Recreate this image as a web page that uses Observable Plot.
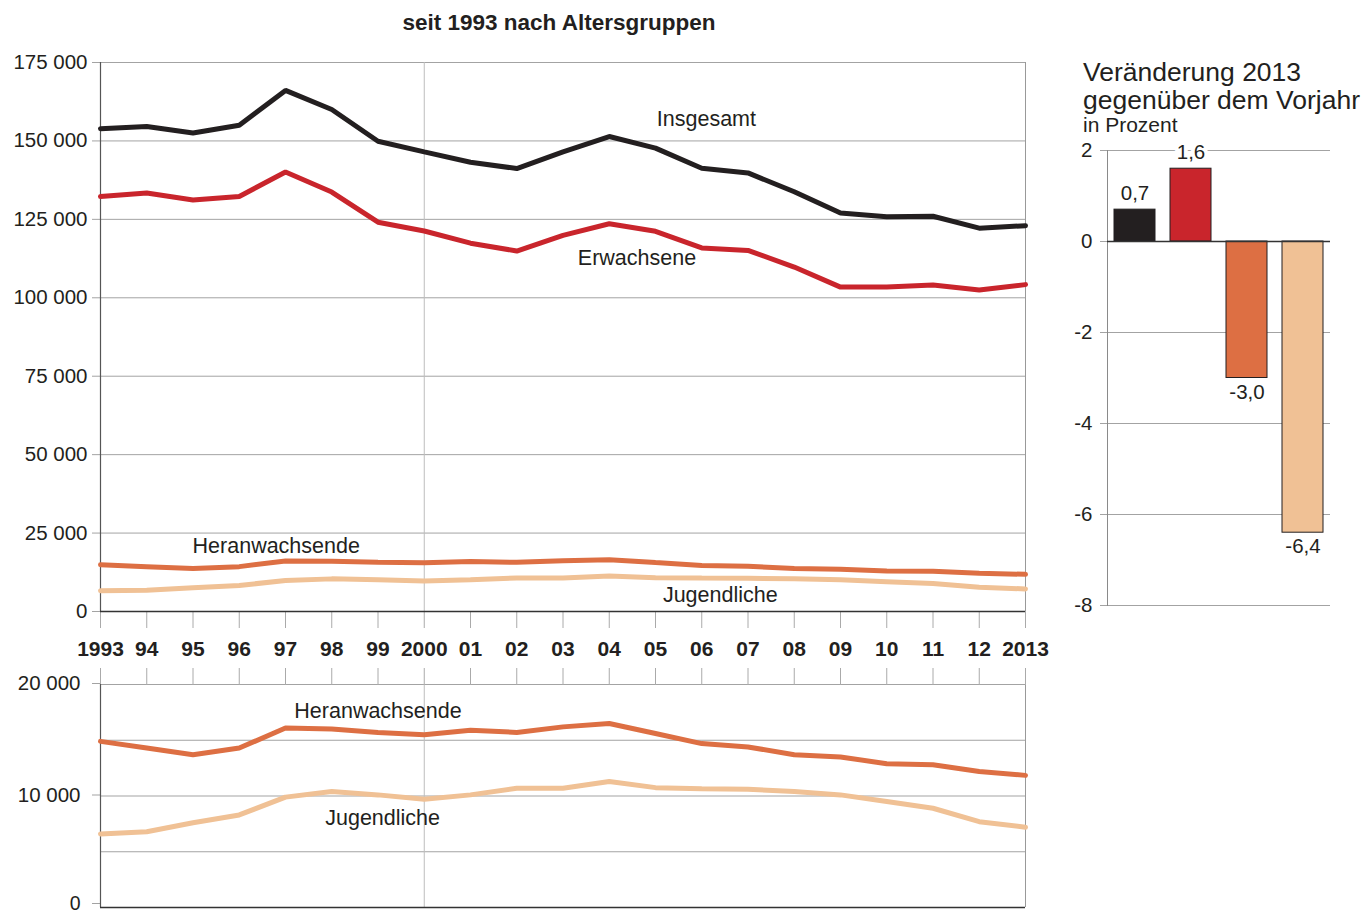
<!DOCTYPE html>
<html><head><meta charset="utf-8">
<script src="https://cdn.jsdelivr.net/npm/d3@7"></script>
<script src="https://cdn.jsdelivr.net/npm/@observablehq/plot@0.6"></script>
<style>
body{margin:0;background:#fff;font-family:"Liberation Sans",Arial,sans-serif;color:#231f20;}
#wrap{position:relative;width:1370px;height:915px;overflow:hidden;background:#fff}
.abs{position:absolute}
svg{overflow:visible}
</style></head><body>
<div id="wrap">
<div id="main" class="abs" style="left:0;top:0"></div>
<div id="sub" class="abs" style="left:0;top:660px"></div>
<div id="bars" class="abs" style="left:1060px;top:140px"></div>
<div class="abs" style="left:0;width:1118px;top:10px;text-align:center;font-weight:bold;font-size:22.5px">seit 1993 nach Altersgruppen</div>
<div class="abs" style="left:1083px;top:58px;font-size:26.5px;line-height:28px;white-space:nowrap">Veränderung 2013<br>gegenüber dem Vorjahr</div>
<div class="abs" style="left:1083px;top:113px;font-size:21px;white-space:nowrap">in Prozent</div>
</div>
<script>
// ---- data ----
const years = [1993,1994,1995,1996,1997,1998,1999,2000,2001,2002,2003,2004,2005,2006,2007,2008,2009,2010,2011,2012,2013];
const yearLabels = ["1993","94","95","96","97","98","99","2000","01","02","03","04","05","06","07","08","09","10","11","12","2013"];
const insgesamt = [153900,154600,152500,155000,166100,160000,149900,146500,143200,141200,146500,151400,147700,141300,139800,133800,127000,125800,126000,122200,123000];
const erwachsene = [132300,133400,131200,132300,140100,133700,124100,121300,117400,114900,119900,123600,121200,115900,115100,109800,103400,103400,104100,102500,104200];
const heranwachsende = [14900,14300,13700,14300,16100,16000,15700,15500,15900,15700,16200,16500,15600,14700,14400,13700,13500,12900,12800,12200,11850];
const jugendliche = [6600,6800,7600,8300,9900,10400,10100,9700,10100,10700,10700,11300,10750,10650,10600,10400,10100,9500,8900,7700,7200];

const groups = ["Insgesamt","Erwachsene","Heranwachsende","Jugendliche"];
const groupColors = ["#231f20","#c9252c","#dd6f43","#f0c195"];
const change2013 = [0.7, 1.6, -3.0, -6.4];

const mainTicks = [0,25000,50000,75000,100000,125000,150000,175000];
const subGrid = [0,5000,10000,15000,20000];
const subTicksUpper = [10000,20000];
const subTickZero = [0];
const barTicks = [-8,-6,-4,-2,0,2];

// line labels (annotation anchors in data units)
const mainLabelText = ["Insgesamt","Erwachsene","Heranwachsende","Jugendliche"];
const mainLabelYear = [2006.1, 2004.6, 1996.8, 2006.4];
const mainLabelValue = [157000, 112700, 20700, 5100];
const subLabelText = ["Heranwachsende","Jugendliche"];
const subLabelYear = [1999.0, 1999.1];
const subLabelValue = [17600, 8000];

// ---- build tables ----
const seriesValues = [insgesamt, erwachsene, heranwachsende, jugendliche];
const rows = groups.flatMap((g, i) => years.map((y, j) => ({group: g, year: y, value: seriesValues[i][j]})));
const subRows = rows.filter(d => d.group === "Heranwachsende" || d.group === "Jugendliche");
const mainLabels = mainLabelText.map((t, i) => ({text: t, year: mainLabelYear[i], value: mainLabelValue[i]}));
const subLabels = subLabelText.map((t, i) => ({text: t, year: subLabelYear[i], value: subLabelValue[i]}));
const bars = groups.map((g, i) => ({group: g, value: change2013[i]}));

const thousands = d => d === 0 ? "0" : d3.format(",")(d).replace(/,/g, " ");
const yearFmt = d => yearLabels[years.indexOf(d)] ?? "";
const deNum = d => d.toFixed(1).replace(".", ",");
const FONT = "'Liberation Sans', Arial, sans-serif";
const INK = "#231f20";
const GRID = "#a3a3a3";

// ---- main chart ----
const main = Plot.plot({
  width: 1060, height: 670,
  marginLeft: 100, marginRight: 35, marginTop: 62, marginBottom: 59,
  style: {fontFamily: FONT, fontSize: "20.5px", color: INK, background: "transparent"},
  x: {domain: [1993, 2013], label: null},
  y: {domain: [0, 175000], label: null},
  color: {domain: groups, range: groupColors},
  marks: [
    Plot.gridY(mainTicks, {stroke: GRID, strokeOpacity: 1}),
    Plot.ruleX([2000], {stroke: "#bdbdbd"}),
    Plot.ruleX([2013], {stroke: "#999"}),
    Plot.axisY(mainTicks, {tickSize: 8, tickPadding: 5, tickFormat: thousands, stroke: GRID, label: null}),
    Plot.axisX(years, {tickSize: 17, tickPadding: 13, tickFormat: yearFmt, stroke: "#aaa", fontWeight: "bold", fontSize: 21, label: null}),
    Plot.ruleX([1993], {stroke: "#555", strokeWidth: 1.2}),
    Plot.ruleY([0], {stroke: "#333", strokeWidth: 1.5}),
    Plot.line(rows, {x: "year", y: "value", z: "group", stroke: "group", strokeWidth: 5, strokeLinejoin: "miter"}),
    Plot.text(mainLabels, {x: "year", y: "value", text: "text", fill: INK, fontSize: 21.5})
  ]
});
document.getElementById("main").appendChild(main);

// ---- detail chart ----
const sub = Plot.plot({
  width: 1060, height: 255,
  marginLeft: 100, marginRight: 35, marginTop: 24, marginBottom: 8,
  style: {fontFamily: FONT, fontSize: "20.5px", color: INK, background: "transparent"},
  x: {domain: [1993, 2013], label: null},
  y: {domain: [0, 20000], label: null},
  color: {domain: groups, range: groupColors},
  marks: [
    Plot.gridY(subGrid, {stroke: GRID, strokeOpacity: 1}),
    Plot.ruleX([2000], {stroke: "#bdbdbd"}),
    Plot.ruleX([2013], {stroke: "#999"}),
    Plot.axisY(subTicksUpper, {tickSize: 8, tickPadding: 12, tickFormat: thousands, stroke: GRID, dy: -1, label: null}),
    Plot.axisY(subTickZero, {tickSize: 8, tickPadding: 12, tickFormat: thousands, stroke: GRID, dy: -4, fontSize: 19.5, label: null}),
    Plot.axisX(years, {anchor: "top", tickSize: 17, tickFormat: () => "", stroke: "#aaa", label: null}),
    Plot.ruleX([1993], {stroke: "#555", strokeWidth: 1.2}),
    Plot.ruleY([0], {stroke: "#333", strokeWidth: 1.5}),
    Plot.line(subRows, {x: "year", y: "value", z: "group", stroke: "group", strokeWidth: 5, strokeLinejoin: "miter"}),
    Plot.text(subLabels, {x: "year", y: "value", text: "text", fill: INK, fontSize: 21.5})
  ]
});
document.getElementById("sub").appendChild(sub);

// ---- bar chart ----
const barChart = Plot.plot({
  width: 310, height: 480,
  marginLeft: 47, marginRight: 40, marginTop: 10, marginBottom: 15,
  style: {fontFamily: FONT, fontSize: "20.5px", color: INK, background: "transparent"},
  x: {type: "band", domain: groups, paddingInner: 0.268, paddingOuter: 0.125, axis: null, label: null},
  y: {domain: [-8, 2], label: null},
  color: {domain: groups, range: groupColors},
  marks: [
    Plot.gridY(barTicks.filter(d => d !== 0), {stroke: GRID, strokeOpacity: 1}),
    Plot.axisY(barTicks, {tickSize: 7, tickPadding: 8, tickFormat: d => String(d), stroke: GRID, label: null}),
    Plot.frame({anchor: "left", stroke: "#8a8a8a"}),
    Plot.barY(bars, {x: "group", y: "value", fill: "group", stroke: INK, strokeWidth: 1}),
    Plot.ruleY([0], {stroke: "#333", strokeWidth: 1.5}),
    Plot.text(bars.filter(d => d.value > 0), {x: "group", y: "value", text: d => deNum(d.value), lineAnchor: "bottom", dy: -10, fill: INK, stroke: "white", strokeWidth: 8, fontSize: 20.5}),
    Plot.text(bars.filter(d => d.value < 0), {x: "group", y: "value", text: d => deNum(d.value), lineAnchor: "top", dy: 6, fill: INK, fontSize: 20.5})
  ]
});
document.getElementById("bars").appendChild(barChart);
</script>
</body></html>
